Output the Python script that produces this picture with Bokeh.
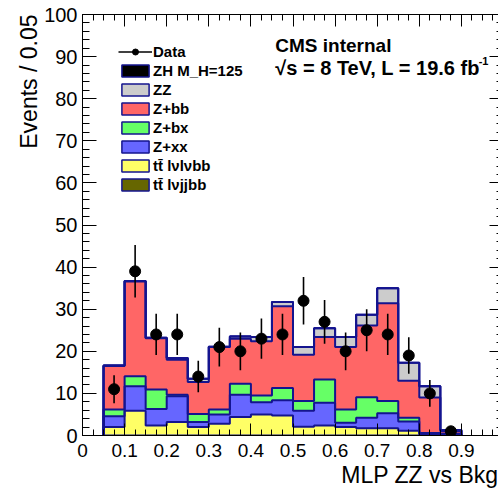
import numpy as np
from bokeh.plotting import figure
from bokeh.models import (Range1d, SingleIntervalTicker, LinearAxis, Label,
                          Legend, LegendItem, ColumnDataSource, Title)
from bokeh.embed import file_html
from bokeh.resources import INLINE

# Binning of the MLP output (bins of 0.05 from 0.05 to 0.90)
bin_start = 0.05
bin_width = 0.05
n_bins = 17

# Observed events per bin
data_counts = [11, 39, 24, 24, 14, 21, 20, 23, 24, 32, 27, 20, 25, 24, 19, 10, 1]

# Expected yields per process (stacked bottom -> top)
ttbar_lvjjbb = [0.0, 0.0, 0.0, 0.0, 0.0, 0.0, 0.0, 0.0, 0.0, 0.0, 0.0, 0.0, 0.0, 0.0, 0.0, 0.0, 0.0]
ttbar_lvlvbb = [2.0, 5.9, 2.4, 3.2, 2.0, 2.8, 4.4, 5.0, 4.75, 2.1, 2.4, 2.0, 1.7, 1.7, 1.1, 0.2, 0.0]
z_xx = [2.6, 5.8, 3.9, 6.1, 1.2, 2.2, 5.3, 2.9, 3.65, 3.8, 5.4, 1.0, 2.5, 3.6, 2.2, 0.3, 0.3]
z_bx = [1.6, 2.4, 4.6, 0.4, 1.9, 1.2, 2.6, 1.6, 2.9, 2.3, 5.5, 3.2, 4.9, 2.9, 0.9, 0.1, 0.1]
z_bb = [10.3, 22.5, 12.2, 8.3, 7.6, 14.8, 10.7, 12.9, 19.4, 11.0, 10.1, 14.8, 17.0, 23.2, 8.8, 8.4, 0.6]
zz = [0.1, 0.1, 0.1, 0.4, 0.8, 0.1, 0.5, 1.0, 1.0, 1.8, 2.1, 2.4, 2.6, 3.6, 4.3, 2.7, 0.3]
zh_125 = [0.0, 0.0, 0.0, 0.0, 0.0, 0.0, 0.0, 0.0, 0.0, 0.0, 0.0, 0.0, 0.0, 0.0, 0.0, 0.0, 0.0]

# Process names, same order as the stack (bottom -> top)
stack_labels = ["tt\u0304 l\u03bdjjbb", "tt\u0304 l\u03bdl\u03bdbb", "Z+xx", "Z+bx",
                "Z+bb", "ZZ", "ZH M_H=125"]
stack_layers = [ttbar_lvjjbb, ttbar_lvlvbb, z_xx, z_bx, z_bb, zz, zh_125]
stack_colors = ["#666600", "#FFFF66", "#6666FF", "#66FF66", "#FF6666", "#CCCCCC", "#000000"]
outline_color = "#14148f"
font = "Liberation Sans"

edges = bin_start + bin_width * np.arange(n_bins + 1)
centers = edges[:-1] + bin_width / 2

p = figure(width=498, height=494, output_backend="svg", toolbar_location=None,
           x_range=Range1d(0, 416 / 421), y_range=Range1d(0, 100),
           min_border_left=82, min_border_right=0, min_border_top=14,
           min_border_bottom=59)
p.outline_line_color = None
p.xgrid.visible = False
p.ygrid.visible = False
p.background_fill_color = "white"
p.border_fill_color = "white"

# Axes in ROOT style: inward ticks on all four sides
p.xaxis.ticker = SingleIntervalTicker(interval=0.1, num_minor_ticks=4)
p.yaxis.ticker = SingleIntervalTicker(interval=10, num_minor_ticks=5)
for ax in (p.xaxis[0], p.yaxis[0]):
    ax.major_tick_out = 0
    ax.minor_tick_out = 0
    ax.axis_line_color = "black"
    ax.major_tick_line_color = "black"
    ax.minor_tick_line_color = "black"
    ax.major_label_text_font = font
    ax.major_label_text_color = "black"
p.xaxis.major_tick_in = 12
p.xaxis.minor_tick_in = 6
p.xaxis.major_label_text_font_size = "19px"
p.xaxis.major_label_standoff = 8
p.yaxis.major_tick_in = 14
p.yaxis.minor_tick_in = 7
p.yaxis.major_label_text_font_size = "20px"
p.yaxis.major_label_standoff = 5

top_axis = LinearAxis(ticker=SingleIntervalTicker(interval=0.1, num_minor_ticks=4),
                      major_label_text_color=None, major_label_text_font_size="0px",
                      major_label_standoff=0,
                      major_tick_in=12, major_tick_out=0,
                      minor_tick_in=6, minor_tick_out=0)
p.add_layout(top_axis, "above")
right_axis = LinearAxis(ticker=SingleIntervalTicker(interval=10, num_minor_ticks=5),
                        major_label_text_color=None, major_label_text_font_size="0px",
                        major_label_standoff=0,
                        major_tick_in=9, major_tick_out=0,
                        minor_tick_in=2, minor_tick_out=0,
                        axis_line_color=None)
p.add_layout(right_axis, "right")

layers = np.array(stack_layers, dtype=float)
upper = np.cumsum(layers, axis=0)
lower = upper - layers

# Per-process bars (also used as legend swatches)
bar_renderers = []
for lo, hi, col in zip(lower, upper, stack_colors):
    r = p.vbar(x=centers, bottom=lo, top=hi, width=bin_width, fill_color=col,
               line_color=outline_color, line_width=1.5)
    bar_renderers.append(r)

# Continuous fills over the bars, so each process reads as one histogram
for lo, hi, col in zip(lower, upper, stack_colors):
    p.varea_step(x=edges, y1=np.append(lo, lo[-1]), y2=np.append(hi, hi[-1]),
                 step_mode="after", fill_color=col)

# Histogram outlines
for hi in upper:
    p.step(x=np.concatenate([[edges[0]], edges]),
           y=np.concatenate([[0.0], hi, [0.0]]),
           mode="after", line_color=outline_color, line_width=2)

# Data with Poisson errors
counts = np.array(data_counts, dtype=float)
err = np.sqrt(counts)
src = ColumnDataSource(dict(x=centers, y=counts, lo=counts - err, hi=counts + err))
err_r = p.segment(x0="x", y0="lo", x1="x", y1="hi", source=src,
                  line_color="black", line_width=1.6)
pts_r = p.scatter(x="x", y="y", source=src, size=11, marker="circle",
                  fill_color="black", line_color="black")

items = [LegendItem(label="Data", renderers=[err_r, pts_r])]
for lab, r in list(zip(stack_labels, bar_renderers))[::-1]:
    items.append(LegendItem(label=lab, renderers=[r]))

legend = Legend(items=items, location=(36, 242), orientation="vertical",
                glyph_width=34, glyph_height=15, label_standoff=1, spacing=2,
                padding=0, margin=0, border_line_color=None,
                background_fill_alpha=0, label_text_font=font,
                label_text_font_size="15px", label_text_font_style="bold",
                label_text_color="black", label_height=12)
p.add_layout(legend)

# Axis titles
p.add_layout(Title(text="MLP ZZ vs Bkg", align="right", text_font=font,
                   text_font_size="23px", text_font_style="normal",
                   text_color="black", standoff=0, offset=0), "below")
p.add_layout(Title(text="Events / 0.05", align="right", text_font=font,
                   text_font_size="23px", text_font_style="normal",
                   text_color="black", standoff=0, offset=0), "left")

# Experiment and luminosity tags
p.add_layout(Label(x=0.458, y=92.6, text="CMS internal", text_font=font,
                   text_font_style="bold", text_font_size="19px",
                   text_baseline="alphabetic", text_color="black"))
p.add_layout(Label(x=0.458, y=87.2, text="\u221as = 8 TeV, L = 19.6 fb",
                   text_font=font, text_font_style="bold", text_font_size="20px",
                   text_baseline="alphabetic", text_color="black"))
p.add_layout(Label(x=0.941, y=88.9, text="-1", text_font=font,
                   text_font_style="bold", text_font_size="11px",
                   text_baseline="alphabetic", text_color="black"))

open("out.html", "w").write(file_html(p, INLINE))
